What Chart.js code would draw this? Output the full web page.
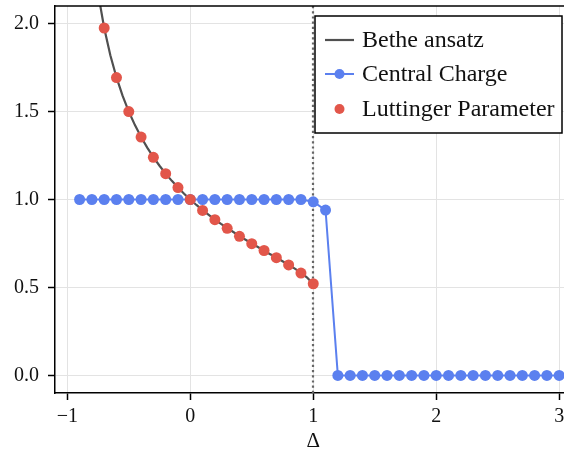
<!DOCTYPE html>
<html>
<head>
<meta charset="utf-8">
<script src="https://cdn.jsdelivr.net/npm/chart.js@4.4.1/dist/chart.umd.min.js"></script>
<style>
  html, body { margin: 0; padding: 0; background: #ffffff; overflow: hidden; }
  #wrap { width: 564px; height: 452px; overflow: hidden; }
  #box { width: 577px; height: 452px; }
</style>
</head>
<body>
<div id="wrap"><div id="box"><canvas id="chart"></canvas></div></div>
<script>
// Bethe ansatz prediction for the Luttinger parameter K(Δ)
const betheDelta = [-0.75, -0.70, -0.65, -0.60, -0.55, -0.50, -0.45, -0.40, -0.35, -0.30,
                    -0.25, -0.20, -0.15, -0.10, -0.05, 0.00, 0.05, 0.10, 0.15, 0.20,
                    0.25, 0.30, 0.35, 0.40, 0.45, 0.50, 0.55, 0.60, 0.65, 0.70,
                    0.75, 0.80, 0.85, 0.90, 0.95, 0.98, 1.00];
const betheK = [2.174, 1.975, 1.820, 1.694, 1.589, 1.500, 1.423, 1.355, 1.295, 1.241,
                1.192, 1.147, 1.106, 1.068, 1.033, 1.000, 0.969, 0.940, 0.913, 0.886,
                0.861, 0.838, 0.815, 0.792, 0.771, 0.750, 0.730, 0.709, 0.689, 0.670,
                0.649, 0.629, 0.607, 0.584, 0.556, 0.534, 0.500];

// Central charge from the numerics
const centralDelta = [-0.9, -0.8, -0.7, -0.6, -0.5, -0.4, -0.3, -0.2, -0.1, 0.0,
                      0.1, 0.2, 0.3, 0.4, 0.5, 0.6, 0.7, 0.8, 0.9, 1.0,
                      1.1, 1.2, 1.3, 1.4, 1.5, 1.6, 1.7, 1.8, 1.9, 2.0,
                      2.1, 2.2, 2.3, 2.4, 2.5, 2.6, 2.7, 2.8, 2.9, 3.0];
const centralCharge = [1.0, 1.0, 1.0, 1.0, 1.0, 1.0, 1.0, 1.0, 1.0, 1.0,
                       1.0, 1.0, 1.0, 1.0, 1.0, 1.0, 1.0, 1.0, 1.0, 0.987,
                       0.94, 0.0, 0.0, 0.0, 0.0, 0.0, 0.0, 0.0, 0.0, 0.0,
                       0.0, 0.0, 0.0, 0.0, 0.0, 0.0, 0.0, 0.0, 0.0, 0.0];

// Luttinger parameter from the numerics
const luttingerDelta = [-0.7, -0.6, -0.5, -0.4, -0.3, -0.2, -0.1, 0.0, 0.1, 0.2,
                        0.3, 0.4, 0.5, 0.6, 0.7, 0.8, 0.9, 1.0];
const luttingerK = [1.975, 1.693, 1.500, 1.355, 1.240, 1.147, 1.068, 1.000, 0.938, 0.885,
                    0.836, 0.791, 0.749, 0.710, 0.669, 0.628, 0.582, 0.521];

const xTicks = [-1, 0, 1, 2, 3];
const yTicks = [0.0, 0.5, 1.0, 1.5, 2.0];
const criticalDelta = [1];
const seriesNames = ['Bethe ansatz', 'Central Charge', 'Luttinger Parameter'];
const xTitle = 'Δ';

const FONT = "'Liberation Serif', 'Times New Roman', serif";
const TICK_FS = 20;
const LEGEND_FS = 24;
const BLUE = '#5b80ef';
const RED = '#e2564a';
const GREY = '#505050';

const toPts = (xs, ys) => xs.map((x, i) => ({ x: x, y: ys[i] }));

const noEdgePadding = s => {
  s.paddingLeft = 0; s.paddingRight = 0; s.paddingTop = 0; s.paddingBottom = 0;
};

const frame = {
  id: 'frame',
  beforeDatasetsDraw(chart) {
    const { ctx, chartArea, scales } = chart;
    ctx.save();
    ctx.strokeStyle = '#666666';
    ctx.lineWidth = 2.2;
    ctx.setLineDash([2.2, 3]);
    criticalDelta.forEach(v => {
      const px = Math.round(scales.x.getPixelForValue(v));
      ctx.beginPath();
      ctx.moveTo(px, chartArea.top);
      ctx.lineTo(px, chartArea.bottom);
      ctx.stroke();
    });
    ctx.restore();
  },
  afterDraw(chart) {
    const { ctx, chartArea } = chart;
    ctx.save();
    // top spine
    ctx.strokeStyle = '#000000';
    ctx.lineWidth = 1.5;
    ctx.beginPath();
    ctx.moveTo(chartArea.left - 0.75, chartArea.top);
    ctx.lineTo(chartArea.right, chartArea.top);
    ctx.stroke();

    // axis title, centred on the axes box
    ctx.fillStyle = '#111111';
    ctx.font = '21px ' + FONT;
    ctx.textAlign = 'center';
    ctx.textBaseline = 'middle';
    ctx.fillText(xTitle, (chartArea.left + chartArea.right) / 2, 441);

    // legend box
    const bx = 315, by = 16, bw = 247, bh = 117;
    ctx.fillStyle = '#ffffff';
    ctx.fillRect(bx, by, bw, bh);
    ctx.lineWidth = 1.5;
    ctx.strokeStyle = '#000000';
    ctx.strokeRect(bx, by, bw, bh);

    const rows = [40, 74, 109];
    const hx0 = 325, hx1 = 354, hmid = (hx0 + hx1) / 2;
    // Bethe ansatz
    ctx.strokeStyle = GREY; ctx.lineWidth = 2.2;
    ctx.beginPath(); ctx.moveTo(hx0, rows[0]); ctx.lineTo(hx1, rows[0]); ctx.stroke();
    // Central Charge
    ctx.strokeStyle = BLUE; ctx.lineWidth = 2;
    ctx.beginPath(); ctx.moveTo(hx0, rows[1]); ctx.lineTo(hx1, rows[1]); ctx.stroke();
    ctx.fillStyle = BLUE;
    ctx.beginPath(); ctx.arc(hmid, rows[1], 5, 0, Math.PI * 2); ctx.fill();
    // Luttinger Parameter
    ctx.fillStyle = RED;
    ctx.beginPath(); ctx.arc(hmid, rows[2], 5, 0, Math.PI * 2); ctx.fill();

    ctx.fillStyle = '#111111';
    ctx.font = LEGEND_FS + 'px ' + FONT;
    ctx.textBaseline = 'middle';
    ctx.textAlign = 'left';
    seriesNames.forEach((t, i) => ctx.fillText(t, 362, rows[i] + 1));
    ctx.restore();
  }
};

new Chart(document.getElementById('chart'), {
  type: 'scatter',
  data: {
    datasets: [
      {
        label: seriesNames[2],
        data: toPts(luttingerDelta, luttingerK),
        showLine: false,
        pointRadius: 5.5,
        pointBackgroundColor: RED,
        pointBorderWidth: 0,
        order: 1
      },
      {
        label: seriesNames[1],
        data: toPts(centralDelta, centralCharge),
        showLine: true,
        borderColor: BLUE,
        borderWidth: 2,
        pointRadius: 5.5,
        pointBackgroundColor: BLUE,
        pointBorderWidth: 0,
        order: 2
      },
      {
        label: seriesNames[0],
        data: toPts(betheDelta, betheK),
        showLine: true,
        borderColor: GREY,
        borderWidth: 2.2,
        pointRadius: 0,
        tension: 0,
        order: 3
      }
    ]
  },
  options: {
    responsive: true,
    maintainAspectRatio: false,
    animation: false,
    events: [],
    layout: { padding: { top: 6, right: 1, left: 0, bottom: 0 } },
    plugins: {
      legend: { display: false },
      tooltip: { enabled: false }
    },
    scales: {
      x: {
        type: 'linear',
        min: -1.1,
        max: 3.1,
        afterBuildTicks: s => { s.ticks = xTicks.map(v => ({ value: v })); },
        afterFit: s => { s.height = 59; noEdgePadding(s); },
        grid: { color: '#e3e3e3', lineWidth: 1, tickColor: '#000000', tickLength: 7, tickWidth: 1.5 },
        border: { display: true, color: '#000000', width: 1.5 },
        ticks: {
          color: '#111111',
          font: { family: FONT, size: TICK_FS },
          padding: 5,
          maxRotation: 0,
          callback: v => (v < 0 ? '\u2212' + Math.abs(v) : String(v))
        }
      },
      y: {
        type: 'linear',
        min: -0.1,
        max: 2.1,
        afterBuildTicks: s => { s.ticks = yTicks.map(v => ({ value: v })); },
        afterFit: s => { s.width = 55; noEdgePadding(s); },
        grid: { color: '#e3e3e3', lineWidth: 1, tickColor: '#000000', tickLength: 7, tickWidth: 1.5 },
        border: { display: true, color: '#000000', width: 1.5 },
        ticks: {
          color: '#111111',
          font: { family: FONT, size: TICK_FS },
          padding: 9,
          callback: v => Number(v).toFixed(1)
        }
      }
    }
  },
  plugins: [frame]
});
</script>
</body>
</html>
